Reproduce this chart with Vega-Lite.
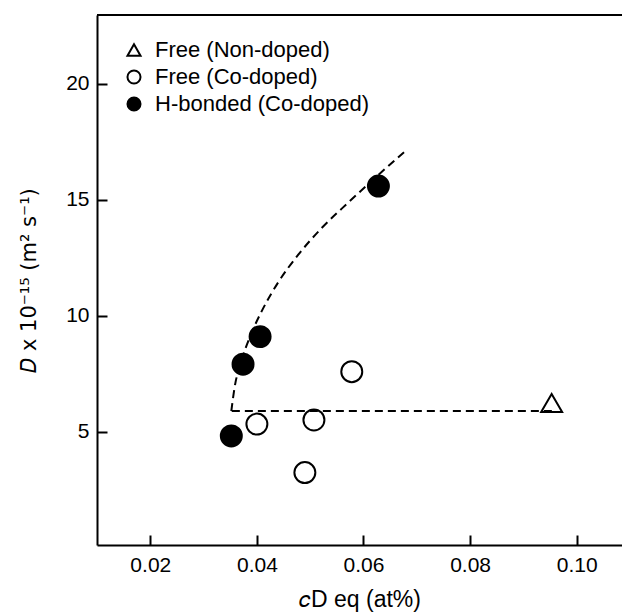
{
  "$schema": "https://vega.github.io/schema/vega-lite/v6.json",
  "width": 525,
  "height": 530,
  "autosize": {"type": "none"},
  "padding": {"left": 97, "top": 15, "right": 0, "bottom": 71},
  "background": "white",
  "config": {
    "view": {"stroke": null},
    "font": "Liberation Sans",
    "axis": {
      "grid": false,
      "domainColor": "black",
      "domainWidth": 2,
      "tickColor": "black",
      "tickWidth": 2,
      "tickSize": -10,
      "labelFont": "Liberation Sans",
      "labelFontSize": 21,
      "labelColor": "black",
      "titleFont": "Liberation Sans",
      "titleFontSize": 23,
      "titleFontWeight": "normal",
      "titleColor": "black"
    },
    "legend": {
      "labelFont": "Liberation Sans",
      "labelFontSize": 22,
      "labelColor": "black",
      "labelLimit": 400
    }
  },
  "datasets": {
    "points": [
      {"c": 0.0953, "D": 6.25, "Type": "Free (Non-doped)"},
      {"c": 0.0400, "D": 5.34, "Type": "Free (Co-doped)"},
      {"c": 0.0507, "D": 5.52, "Type": "Free (Co-doped)"},
      {"c": 0.0490, "D": 3.25, "Type": "Free (Co-doped)"},
      {"c": 0.0578, "D": 7.6, "Type": "Free (Co-doped)"},
      {"c": 0.0352, "D": 4.83, "Type": "H-bonded (Co-doped)"},
      {"c": 0.0374, "D": 7.92, "Type": "H-bonded (Co-doped)"},
      {"c": 0.0406, "D": 9.11, "Type": "H-bonded (Co-doped)"},
      {"c": 0.0628, "D": 15.6, "Type": "H-bonded (Co-doped)"}
    ],
    "curve": [
      {"c": 0.0352, "D": 5.9},
      {"c": 0.0358, "D": 6.9},
      {"c": 0.0370, "D": 8.0},
      {"c": 0.0387, "D": 9.1},
      {"c": 0.0410, "D": 10.25},
      {"c": 0.0440, "D": 11.45},
      {"c": 0.0478, "D": 12.65},
      {"c": 0.0522, "D": 13.8},
      {"c": 0.0572, "D": 14.9},
      {"c": 0.0624, "D": 16.0},
      {"c": 0.0678, "D": 17.1}
    ],
    "flat": [
      {"c": 0.0353, "D": 5.9},
      {"c": 0.0955, "D": 5.9}
    ]
  },
  "layer": [
    {
      "data": {"name": "curve"},
      "mark": {"type": "line", "color": "black", "strokeWidth": 2, "strokeDash": [8, 5], "interpolate": "monotone"},
      "encoding": {
        "x": {"field": "c", "type": "quantitative",
          "scale": {"domain": [0.01, 0.1085], "nice": false, "zero": false},
          "axis": {"values": [0.02, 0.04, 0.06, 0.08, 0.1], "format": ".2f", "labelPadding": 19, "title": "𝑐D eq (at%)", "titlePadding": 13}},
        "y": {"field": "D", "type": "quantitative",
          "scale": {"domain": [0.13, 22.97], "nice": false, "zero": false},
          "axis": {"values": [5, 10, 15, 20], "labelPadding": 18, "title": "𝐷 x 10⁻¹⁵   (m² s⁻¹)", "titleFont": "DejaVu Sans", "titleFontSize": 21, "titlePadding": 26}}
      }
    },
    {
      "data": {"name": "flat"},
      "mark": {"type": "line", "color": "black", "strokeWidth": 2, "strokeDash": [8, 5]},
      "encoding": {
        "x": {"field": "c", "type": "quantitative"},
        "y": {"field": "D", "type": "quantitative"}
      }
    },
    {
      "data": {"name": "points"},
      "mark": {"type": "point", "filled": true, "strokeWidth": 2, "opacity": 1, "size": 440},
      "encoding": {
        "x": {"field": "c", "type": "quantitative"},
        "y": {"field": "D", "type": "quantitative"},
        "shape": {"field": "Type", "type": "nominal",
          "scale": {"domain": ["Free (Non-doped)", "Free (Co-doped)", "H-bonded (Co-doped)"], "range": ["triangle-up", "circle", "circle"]},
          "legend": {"title": null, "orient": "none", "legendX": 26, "legendY": 24, "symbolSize": 170, "symbolStrokeWidth": 2, "labelOffset": 10, "rowPadding": 5, "padding": 0}},
        "fill": {"field": "Type", "type": "nominal",
          "scale": {"domain": ["Free (Non-doped)", "Free (Co-doped)", "H-bonded (Co-doped)"], "range": ["transparent", "transparent", "black"]},
          "legend": {"title": null, "orient": "none", "legendX": 26, "legendY": 24, "symbolSize": 170, "symbolStrokeWidth": 2, "labelOffset": 10, "rowPadding": 5, "padding": 0}},
        "stroke": {"field": "Type", "type": "nominal",
          "scale": {"domain": ["Free (Non-doped)", "Free (Co-doped)", "H-bonded (Co-doped)"], "range": ["black", "black", "black"]},
          "legend": {"title": null, "orient": "none", "legendX": 26, "legendY": 24, "symbolSize": 170, "symbolStrokeWidth": 2, "labelOffset": 10, "rowPadding": 5, "padding": 0}}
      }
    },
    {
      "data": {"values": [{}]},
      "mark": {"type": "rule", "color": "black", "strokeWidth": 2},
      "encoding": {"y": {"datum": 22.97}}
    }
  ]
}
